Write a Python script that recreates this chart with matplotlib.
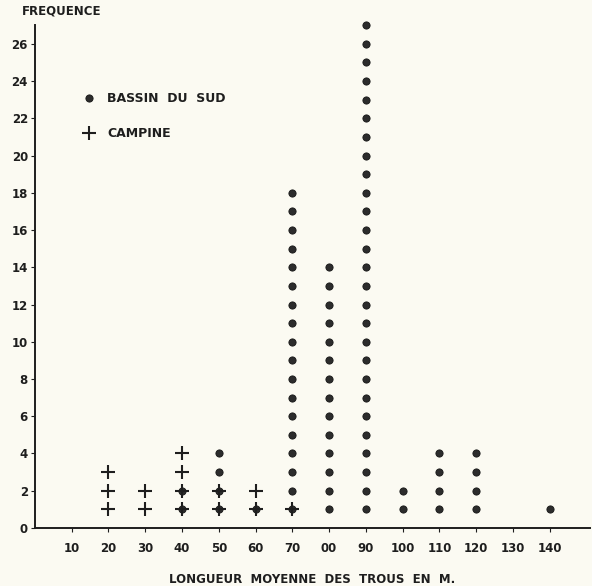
import numpy as np
import matplotlib
matplotlib.use('Agg')
import matplotlib.pyplot as plt
from matplotlib.lines import Line2D

# longueur moyenne (m) et frequences
bassin_x = [40, 50, 60, 70, 80, 90, 100, 110, 120, 140]
bassin_n = [2, 4, 1, 18, 14, 27, 2, 4, 4, 1]

campine_x = [20, 30, 40, 50, 60, 70]
campine_n = [3, 2, 4, 2, 2, 1]

x_ticks = [10, 20, 30, 40, 50, 60, 70, 80, 90, 100, 110, 120, 130, 140]
x_ticklabels = ['10', '20', '30', '40', '50', '60', '70', '00', '90',
                '100', '110', '120', '130', '140']
y_ticks = list(range(0, 27, 2))

bg = '#fbfaf2'
ink = '#1e1e1e'

fig = plt.figure(figsize=(5.92, 5.86), dpi=100, facecolor=bg)
ax = fig.add_axes([0.059, 0.099, 0.938, 0.858], facecolor=bg)

# une marque par observation
for x, n in zip(bassin_x, bassin_n):
    k = np.arange(1, n + 1)
    ax.plot(np.full(n, x), k, 'o', ms=5.2, color='#2c2c2c',
            mec='#151515', mew=0.6, ls='none', clip_on=False, zorder=3)
for x, n in zip(campine_x, campine_n):
    k = np.arange(1, n + 1)
    ax.plot(np.full(n, x), k, '+', ms=10, color=ink, mew=1.5,
            ls='none', clip_on=False, zorder=4)

ax.set_xlim(0, 151)
ax.set_ylim(0, 27.0)
ax.set_xticks(x_ticks)
ax.set_xticklabels(x_ticklabels)
ax.set_yticks(y_ticks)
ax.set_yticklabels([str(v) for v in y_ticks])

for s in ['top', 'right']:
    ax.spines[s].set_visible(False)
for s in ['left', 'bottom']:
    ax.spines[s].set_color(ink)
    ax.spines[s].set_linewidth(1.4)

ax.tick_params(axis='both', colors=ink, labelsize=8.5, width=0.8, length=3,
               direction='out')
ax.tick_params(axis='x', pad=7)
ax.tick_params(axis='y', pad=2)
for lab in ax.get_xticklabels() + ax.get_yticklabels():
    lab.set_fontweight('bold')

ax.set_xlabel('LONGUEUR  MOYENNE  DES  TROUS  EN  M.', fontsize=8.5,
              fontweight='bold', color=ink, labelpad=13)
fig.text(0.037, 0.97, 'FREQUENCE', fontsize=8.5, fontweight='bold',
         color=ink, ha='left', va='bottom')

handles = [
    Line2D([], [], marker='o', ls='none', ms=5.2, color='#2c2c2c',
           mec='#151515', mew=0.6),
    Line2D([], [], marker='+', ls='none', ms=10, color=ink, mew=1.5),
]
leg = ax.legend(handles, ['BASSIN  DU  SUD', 'CAMPINE'], loc='upper left',
                bbox_to_anchor=(0.065, 0.889), frameon=False, fontsize=9,
                handletextpad=1.0, labelspacing=1.75, handlelength=1.0)
for t in leg.get_texts():
    t.set_fontweight('bold')
    t.set_color(ink)

fig.savefig('out.png', dpi=100, facecolor=bg)
